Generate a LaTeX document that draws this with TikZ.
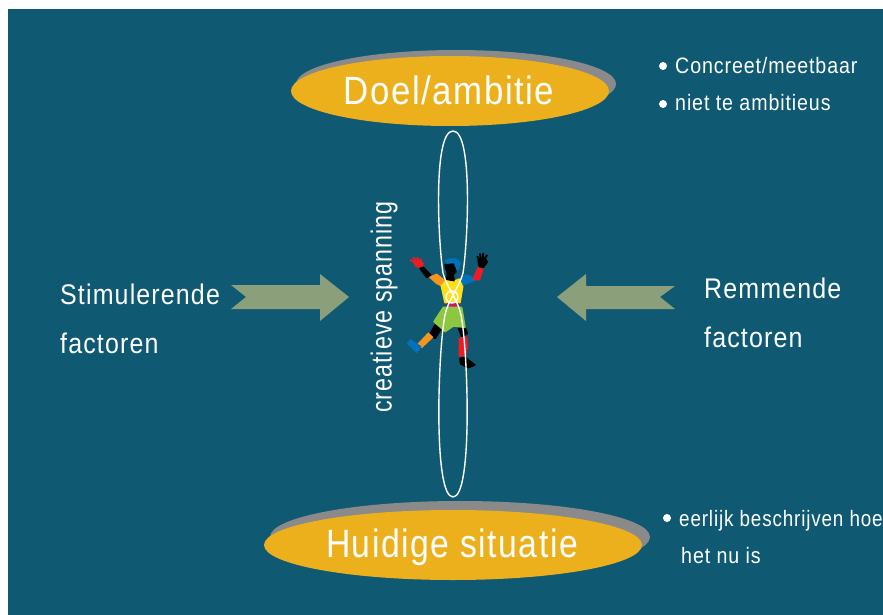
\documentclass[tikz,border=0pt]{standalone}
\usepackage{fontspec}
\setmainfont[FakeStretch=0.88,LetterSpace=4]{Liberation Sans}
\definecolor{seablue}{HTML}{0F5A72}
\definecolor{gold}{HTML}{ECB01C}
\definecolor{shadowgray}{HTML}{8A8A8A}
\definecolor{arrowgreen}{HTML}{8B9F7B}
\definecolor{suitred}{HTML}{ED1C24}
\definecolor{suitorange}{HTML}{F7941D}
\definecolor{suityellow}{HTML}{FFDE17}
\definecolor{suitblue}{HTML}{0072BC}
\definecolor{suitgreen}{HTML}{8DC63F}
\definecolor{suitpink}{HTML}{D4145A}
\tikzset{
  bigtext/.style={white, font=\fontsize{39.5}{39.5}\selectfont, anchor=base},
  midtext/.style={white, font=\fontsize{28.4}{28.4}\selectfont, anchor=base west, inner sep=0pt},
  smalltext/.style={white, font=\fontsize{22.3}{22.3}\selectfont, anchor=base west, inner sep=0pt},
  limb/.style={line join=round, line width=1.5pt},
  finger/.style={line cap=round, line width=2pt}
}
\begin{document}
\begin{tikzpicture}[x=1pt, y=-1pt]
        \useasboundingbox (0,0) rectangle (883,615);
        \fill[seablue] (8,9) rectangle (883,615);

        % top and bottom discs
        \fill[shadowgray] (456,84) ellipse (160 and 34);
        \fill[gold] (450,91) ellipse (159 and 35);
        \fill[shadowgray] (460,537) ellipse (190 and 36);
        \fill[gold] (453,545) ellipse (189 and 35);

        \node[bigtext] (doel) at (449,105) {Doel/ambitie};
        \node[bigtext, xscale=0.97] (huidig) at (452,557) {Huidige situatie};

        % side arrows
        \fill[arrowgreen] (231,285) -- (320,285) -- (320,274) -- (349,297) -- (320,321) -- (320,309) -- (231,309) -- (246,297) -- cycle;
        \fill[arrowgreen] (675,286) -- (586,286) -- (586,274) -- (557,297) -- (586,321) -- (586,309) -- (675,309) -- (660,297) -- cycle;

        \node[midtext] (stim) at (60,304) {Stimulerende};
        \node[midtext] (stimb) at (60,353) {factoren};
        \node[midtext] (rem) at (704,298) {Remmende};
        \node[midtext] (remb) at (704,347) {factoren};

        \node[white, font=\fontsize{29}{29}\selectfont, rotate=90, xscale=0.91, inner sep=0pt] (span) at (384,307) {creatieve spanning};

        % climber, limbs given in a finer grid
        \begin{scope}[shift={(390,240)}, x=0.3333pt, y=-0.3333pt]
        \filldraw[suitred, limb] (70,64) -- (90,60) -- (100,72) -- (92,84) -- (78,78) -- cycle;
        \foreach \a/\b in {62/60, 70/53, 82/53, 93/58}
        \draw[suitred, finger] (\a,\b) -- (85,72);
        \filldraw[black, limb] (90,85) -- (100,82) -- (122,105) -- (110,113) -- cycle;
        \filldraw[suitorange, limb] (120,112) -- (140,103) -- (168,125) -- (160,140) -- (140,130) -- cycle;
        \filldraw[suityellow, limb] (154,138) -- (170,120) -- (192,124) -- (208,117) -- (218,140) -- (210,188) -- (165,188) -- cycle;
        \filldraw[suitblue, limb] (212,115) -- (228,105) -- (262,118) -- (220,133) -- cycle;
        \filldraw[suitred, limb] (250,117) -- (265,82) -- (278,88) -- (268,120) -- cycle;
        \filldraw[black, limb] (264,60) -- (286,56) -- (292,66) -- (280,82) -- (268,80) -- cycle;
        \foreach \a/\b in {262/50, 270/42, 280/41, 291/46}
        \draw[black, finger] (\a,\b) -- (275,68);
        \filldraw[suitblue, limb] (167,62) -- (180,57) -- (200,58) -- (210,68) -- (205,90) -- (190,75) -- (175,72) -- cycle;
        \filldraw[black, limb] (165,75) -- (190,72) -- (198,95) -- (190,103) -- (192,122) -- (170,118) -- (172,100) -- cycle;
        \filldraw[suitpink, limb] (172,191) -- (204,191) -- (204,199) -- (172,199) -- cycle;
        \filldraw[black, limb] (135,255) -- (155,265) -- (135,295) -- (118,285) -- cycle;
        \filldraw[suitorange, limb] (85,312) -- (115,280) -- (127,292) -- (95,322) -- cycle;
        \filldraw[suitblue, limb] (53,310) -- (62,300) -- (92,320) -- (80,337) -- cycle;
        \filldraw[black, limb] (205,265) -- (225,262) -- (232,280) -- (215,290) -- cycle;
        \filldraw[suitred, limb] (208,295) -- (230,292) -- (232,320) -- (225,348) -- (208,348) -- cycle;
        \filldraw[black, limb] (210,355) -- (225,352) -- (255,375) -- (235,383) -- (212,372) -- cycle;
        \filldraw[suitgreen, limb] (160,202) -- (215,202) -- (225,262) -- (190,258) -- (165,275) -- (155,265) -- (132,245) -- cycle;
        \end{scope}

        % elastic band, two strokes crossing at the waist
        \foreach \s in {1,-1}
        \draw[white, line width=1.4pt] (453,131) .. controls (453-\s*20,131) and (453-\s*15,240) .. (453-\s*10,273)
            .. controls (453-\s*6,288) and (453+\s*5,300) .. (453+\s*8,315)
            .. controls (453+\s*15,350) and (453+\s*20,497) .. (453,497);
        \draw[white, line width=1.4pt] (452,297) circle (6);

        % bullet lists
        \foreach \x/\y in {663/66, 663/104, 667/518}
        \fill[white] (\x,\y) circle (4);
        \node[smalltext] (conc) at (675,74) {Concreet/meetbaar};
        \node[smalltext] (niet) at (675,111) {niet te ambitieus};
        \node[smalltext, xscale=0.96] (eerl) at (679,526) {eerlijk beschrijven hoe};
        \node[smalltext] (hetnu) at (681,563) {het nu is};

\end{tikzpicture}
\end{document}
